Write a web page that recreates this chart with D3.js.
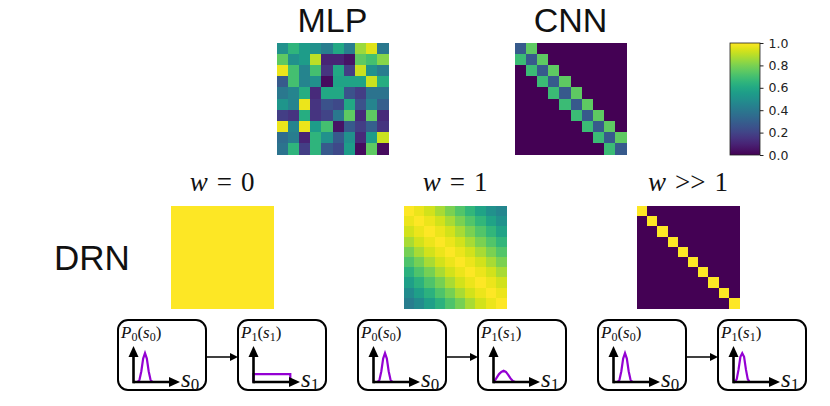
<!DOCTYPE html>
<html>
<head>
<meta charset="utf-8">
<script src="https://cdn.jsdelivr.net/npm/d3@7"></script>
<style>
  body { margin: 0; background: #fff; }
  svg { display: block; }
</style>
</head>
<body>
<div id="chart"></div>
<script>
// ---- data ----
const topTitles = ['MLP', 'CNN'];
const drnTitles = [['w', '=', '0'], ['w', '>>', '1'], ['w', '=', '1']];

const mlpValues = [
  [0.50, 0.65, 0.55, 0.50, 0.42, 0.60, 0.42, 0.85, 0.95, 0.40],
  [0.75, 0.50, 0.55, 0.90, 0.10, 0.10, 0.05, 0.75, 0.70, 0.82],
  [0.97, 0.70, 0.45, 0.70, 0.15, 0.60, 0.18, 0.92, 0.50, 0.42],
  [0.28, 0.70, 0.45, 0.50, 0.03, 0.58, 0.58, 0.58, 0.92, 0.62],
  [0.40, 0.45, 0.62, 0.12, 0.60, 0.60, 0.25, 0.18, 0.38, 0.38],
  [0.52, 0.45, 0.97, 0.15, 0.25, 0.22, 0.60, 0.25, 0.45, 0.30],
  [0.18, 0.15, 0.62, 0.15, 0.20, 0.40, 0.75, 0.12, 0.75, 0.12],
  [0.97, 0.45, 0.97, 0.55, 0.70, 0.05, 0.28, 0.18, 0.30, 0.15],
  [0.35, 0.42, 0.10, 0.65, 0.50, 0.28, 0.50, 0.12, 0.55, 0.92],
  [0.38, 0.65, 0.18, 0.65, 0.28, 0.22, 0.55, 0.03, 0.75, 0.03]
];

const cnnValues = [
  [0.28, 0.75, 0, 0, 0, 0, 0, 0, 0, 0],
  [0.68, 0.28, 0.75, 0, 0, 0, 0, 0, 0, 0],
  [0, 0.68, 0.28, 0.75, 0, 0, 0, 0, 0, 0],
  [0, 0, 0.68, 0.28, 0.75, 0, 0, 0, 0, 0],
  [0, 0, 0, 0.68, 0.28, 0.75, 0, 0, 0, 0],
  [0, 0, 0, 0, 0.68, 0.28, 0.75, 0, 0, 0],
  [0, 0, 0, 0, 0, 0.68, 0.28, 0.75, 0, 0],
  [0, 0, 0, 0, 0, 0, 0.68, 0.28, 0.75, 0],
  [0, 0, 0, 0, 0, 0, 0, 0.68, 0.28, 0.75],
  [0, 0, 0, 0, 0, 0, 0, 0, 0.68, 0.28]
];

const drnW0 = [
  [1, 1, 1, 1, 1, 1, 1, 1, 1, 1],
  [1, 1, 1, 1, 1, 1, 1, 1, 1, 1],
  [1, 1, 1, 1, 1, 1, 1, 1, 1, 1],
  [1, 1, 1, 1, 1, 1, 1, 1, 1, 1],
  [1, 1, 1, 1, 1, 1, 1, 1, 1, 1],
  [1, 1, 1, 1, 1, 1, 1, 1, 1, 1],
  [1, 1, 1, 1, 1, 1, 1, 1, 1, 1],
  [1, 1, 1, 1, 1, 1, 1, 1, 1, 1],
  [1, 1, 1, 1, 1, 1, 1, 1, 1, 1],
  [1, 1, 1, 1, 1, 1, 1, 1, 1, 1]
];

const drnW1 = [
  [1.00, 0.97, 0.93, 0.87, 0.80, 0.73, 0.66, 0.58, 0.50, 0.46],
  [0.97, 1.00, 0.97, 0.93, 0.87, 0.80, 0.73, 0.66, 0.58, 0.51],
  [0.93, 0.97, 1.00, 0.97, 0.93, 0.87, 0.80, 0.73, 0.66, 0.58],
  [0.87, 0.93, 0.97, 1.00, 0.97, 0.93, 0.87, 0.80, 0.73, 0.66],
  [0.79, 0.87, 0.93, 0.97, 1.00, 0.97, 0.93, 0.87, 0.80, 0.73],
  [0.72, 0.79, 0.87, 0.93, 0.97, 1.00, 0.97, 0.93, 0.87, 0.80],
  [0.64, 0.72, 0.79, 0.87, 0.93, 0.97, 1.00, 0.97, 0.93, 0.87],
  [0.56, 0.64, 0.72, 0.79, 0.87, 0.93, 0.97, 1.00, 0.97, 0.93],
  [0.48, 0.56, 0.64, 0.72, 0.79, 0.87, 0.93, 0.97, 1.00, 0.97],
  [0.42, 0.48, 0.56, 0.64, 0.72, 0.79, 0.87, 0.93, 0.97, 1.00]
];

const drnWBig = [
  [1, 0, 0, 0, 0, 0, 0, 0, 0, 0],
  [0, 1, 0, 0, 0, 0, 0, 0, 0, 0],
  [0, 0, 1, 0, 0, 0, 0, 0, 0, 0],
  [0, 0, 0, 1, 0, 0, 0, 0, 0, 0],
  [0, 0, 0, 0, 1, 0, 0, 0, 0, 0],
  [0, 0, 0, 0, 0, 1, 0, 0, 0, 0],
  [0, 0, 0, 0, 0, 0, 1, 0, 0, 0],
  [0, 0, 0, 0, 0, 0, 0, 1, 0, 0],
  [0, 0, 0, 0, 0, 0, 0, 0, 1, 0],
  [0, 0, 0, 0, 0, 0, 0, 0, 0, 1]
];

const colorbarTicks = [0, 0.2, 0.4, 0.6, 0.8, 1.0];

// little distribution sketches under each DRN matrix (x, y in 0..1)
const p0PeakX = [0, 0.09, 0.13, 0.17, 0.21, 0.25, 0.29, 0.33, 0.37, 0.41, 0.5];
const p0PeakY = [0, 0, 0.06, 0.3, 0.65, 0.8, 0.65, 0.3, 0.06, 0, 0];
const p1FlatX = [0, 0, 0.8, 0.8];
const p1FlatY = [0, 0.22, 0.22, 0];
const p1BumpX = [0, 0.04, 0.08, 0.12, 0.17, 0.22, 0.27, 0.32, 0.37, 0.42, 0.47, 0.55];
const p1BumpY = [0, 0.06, 0.14, 0.22, 0.28, 0.31, 0.28, 0.2, 0.1, 0.03, 0, 0];
const p1PeakX = [0, 0.03, 0.07, 0.11, 0.15, 0.19, 0.23, 0.27, 0.31, 0.35, 0.45];
const p1PeakY = [0, 0, 0.08, 0.35, 0.7, 0.8, 0.7, 0.35, 0.08, 0, 0];

const boxDist = [0, 1, 0, 1, 0, 1]; // P0(s0) or P1(s1)
const boxCurves = [
  [p0PeakX, p0PeakY], [p1FlatX, p1FlatY],
  [p0PeakX, p0PeakY], [p1BumpX, p1BumpY],
  [p0PeakX, p0PeakY], [p1PeakX, p1PeakY]
];

// ---- drawing ----
const width = 830;
const height = 406;
const mathFont = '"Liberation Serif", "DejaVu Serif", serif';
const sansFont = '"Liberation Sans", Arial, sans-serif';

const svg = d3.select('#chart')
  .append('svg')
  .attr('width', width)
  .attr('height', height);

// draws a square heatmap of a matrix with the viridis colour map
function drawMatrix(values, x0, y0, size) {
  const n = values.length;
  const xs = d3.scaleBand().domain(d3.range(n)).range([x0, x0 + size]);
  const ys = d3.scaleBand().domain(d3.range(n)).range([y0, y0 + size]);
  const cells = [];
  values.forEach((row, i) => row.forEach((v, j) => cells.push({ i, j, v })));

  svg.append('g')
    .attr('shape-rendering', 'crispEdges')
    .selectAll('rect')
    .data(cells)
    .enter()
    .append('rect')
    .attr('x', d => xs(d.j))
    .attr('y', d => ys(d.i))
    .attr('width', xs.bandwidth() + 0.6)
    .attr('height', ys.bandwidth() + 0.6)
    .attr('fill', d => d3.interpolateViridis(d.v));
}

// top row: MLP and CNN
const topSize = 111;
const topX = [277, 515];
[mlpValues, cnnValues].forEach((m, k) => {
  drawMatrix(m, topX[k], 43, topSize);
  svg.append('text')
    .attr('x', topX[k] + topSize / 2)
    .attr('y', 32)
    .attr('text-anchor', 'middle')
    .attr('font-family', sansFont)
    .attr('font-size', 34)
    .attr('fill', '#111')
    .text(topTitles[k]);
});

// colour bar
const cbX = 730;
const cbW = 30;
const cbScale = d3.scaleLinear().domain([0, 1]).range([155, 43]);
const grad = svg.append('defs').append('linearGradient')
  .attr('id', 'viridis')
  .attr('x1', 0).attr('y1', 1).attr('x2', 0).attr('y2', 0);
d3.range(0, 1.0001, 0.05).forEach(t => {
  grad.append('stop').attr('offset', t).attr('stop-color', d3.interpolateViridis(t));
});
svg.append('rect')
  .attr('x', cbX)
  .attr('y', cbScale(1))
  .attr('width', cbW)
  .attr('height', cbScale(0) - cbScale(1))
  .attr('fill', 'url(#viridis)')
  .attr('stroke', '#222')
  .attr('stroke-width', 0.8);
const cbAxis = svg.append('g')
  .attr('transform', `translate(${cbX + cbW},0)`)
  .call(d3.axisRight(cbScale).tickValues(colorbarTicks).tickSize(3.5).tickPadding(5)
    .tickFormat(d3.format('.1f')));
cbAxis.select('.domain').remove();
cbAxis.selectAll('text')
  .attr('font-family', '"DejaVu Sans", sans-serif')
  .attr('font-size', 12.5)
  .attr('fill', '#222');
cbAxis.selectAll('line').attr('stroke', '#222');

// DRN row
const drnSize = 102;
const drnX = [171, 404, 637];
const drnMats = [drnW0, drnW1, drnWBig];
const drnTitleOrder = [0, 2, 1];
drnMats.forEach((m, k) => {
  drawMatrix(m, drnX[k], 206, drnSize);
  const parts = drnTitles[drnTitleOrder[k]];
  const t = svg.append('text')
    .attr('x', drnX[k] + drnSize / 2)
    .attr('y', 191)
    .attr('text-anchor', 'middle')
    .attr('font-family', mathFont)
    .attr('font-size', 27)
    .attr('fill', '#111');
  t.append('tspan').attr('font-style', 'italic').text(parts[0]);
  t.append('tspan').attr('dx', 9).text(parts[1]);
  t.append('tspan').attr('dx', 9).text(parts[2]);
});

svg.append('text')
  .attr('x', 54)
  .attr('y', 270)
  .attr('font-family', sansFont)
  .attr('font-size', 35)
  .attr('fill', '#111')
  .text('DRN');

// bottom row of distribution sketches
const boxScale = d3.scaleLinear().domain([0, 5]).range([118, 718]);
const boxW = 88;
const boxH = 70;
const boxY = 320;
const line = d3.line();

boxDist.forEach((dist, i) => {
  const bx = boxScale(i);
  const g = svg.append('g');

  g.append('rect')
    .attr('x', bx)
    .attr('y', boxY)
    .attr('width', boxW)
    .attr('height', boxH)
    .attr('rx', 10)
    .attr('fill', 'none')
    .attr('stroke', '#000')
    .attr('stroke-width', 2);

  const ox = bx + 15.5;
  const oy = boxY + 62;
  const tipX = bx + 62;
  const tipY = boxY + 26;
  const xs = d3.scaleLinear().domain([0, 1]).range([ox, ox + 46]);
  const ys = d3.scaleLinear().domain([0, 1]).range([oy, oy - 36]);

  const [cx, cy] = boxCurves[i];
  g.append('path')
    .attr('d', line(cx.map((x, k) => [xs(x), ys(cy[k])])))
    .attr('fill', 'none')
    .attr('stroke', '#9400d3')
    .attr('stroke-width', 2.2);

  // axes with arrow heads
  g.append('line')
    .attr('x1', ox).attr('y1', oy).attr('x2', tipX - 9).attr('y2', oy)
    .attr('stroke', '#000').attr('stroke-width', 2.6);
  g.append('line')
    .attr('x1', ox).attr('y1', oy + 1.3).attr('x2', ox).attr('y2', tipY + 9)
    .attr('stroke', '#000').attr('stroke-width', 2.6);
  g.append('path')
    .attr('d', `M${tipX},${oy}L${tipX - 11},${oy - 5}L${tipX - 11},${oy + 5}Z`)
    .attr('fill', '#000');
  g.append('path')
    .attr('d', `M${ox},${tipY}L${ox - 5},${tipY + 11}L${ox + 5},${tipY + 11}Z`)
    .attr('fill', '#000');

  // P_k(s_k) label
  const p = g.append('text')
    .attr('x', bx + 3)
    .attr('y', boxY + 18)
    .attr('font-family', mathFont)
    .attr('font-size', 17)
    .attr('fill', '#111');
  p.append('tspan').attr('font-style', 'italic').text('P');
  p.append('tspan').attr('font-size', 12).attr('dy', 3).text(dist);
  p.append('tspan').attr('dy', -3).text('(');
  p.append('tspan').attr('font-style', 'italic').text('s');
  p.append('tspan').attr('font-size', 12).attr('dy', 3).text(dist);
  p.append('tspan').attr('dy', -3).text(')');

  // s_k axis label
  const s = g.append('text')
    .attr('x', tipX + 1)
    .attr('y', oy + 5)
    .attr('font-family', mathFont)
    .attr('font-size', 25)
    .attr('fill', '#111');
  s.append('tspan').attr('font-style', 'italic').text('s');
  s.append('tspan').attr('font-size', 17).attr('dy', 3).text(dist);

  // arrow from P0 box to P1 box
  if (dist === 0) {
    const nx = boxScale(i + 1);
    const ay = boxY + 37;
    g.append('line')
      .attr('x1', bx + boxW).attr('y1', ay).attr('x2', nx - 6).attr('y2', ay)
      .attr('stroke', '#000').attr('stroke-width', 1.5);
    g.append('path')
      .attr('d', `M${nx},${ay}L${nx - 8},${ay - 4}L${nx - 8},${ay + 4}Z`)
      .attr('fill', '#000');
  }
});
</script>
</body>
</html>
